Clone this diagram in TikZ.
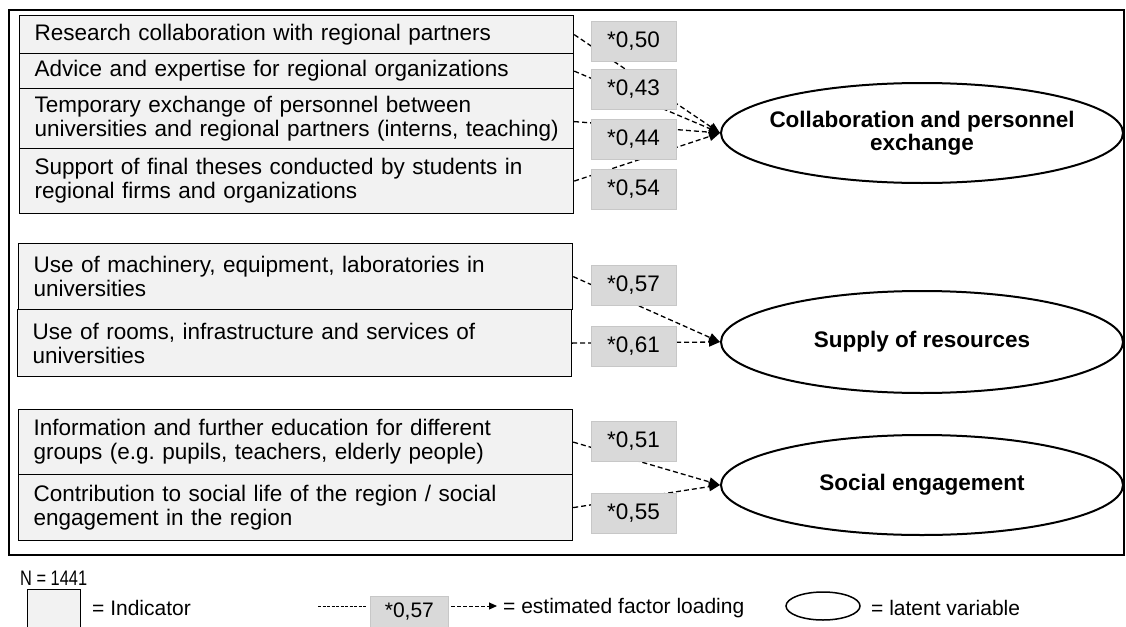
\documentclass[tikz,border=0pt]{standalone}
\usepackage{fontspec}
\setmainfont{Liberation Sans}
\usetikzlibrary{arrows.meta,shapes.geometric}
\newcommand\oneline[1]{\mbox{#1}}
\begin{document}
\frenchspacing
\begin{tikzpicture}[x=1pt,y=-1pt,
  font=\fontsize{22.5}{24}\selectfont,
  ind/.style={draw=black, line width=1.2pt, fill=black!5, anchor=north west, text width=524pt, inner xsep=15pt, inner ysep=0pt, align=left, minimum width=554pt},
  load/.style={draw=black!22, line width=0.8pt, fill=black!15, minimum width=85pt, minimum height=40pt, inner sep=0pt},
  latent/.style={ellipse, draw, line width=2pt, fill=white, minimum width=402pt, minimum height=100pt, inner xsep=-30pt, inner ysep=0pt, align=center, font=\fontsize{22.5}{23}\selectfont\bfseries},
  conn/.style={line width=1.3pt, dash pattern=on 5pt off 3pt, -{Triangle[length=11pt,width=9pt]}},
  frame/.style={draw, line width=1.6pt},
  lgtext/.style={anchor=west, inner sep=0pt, font=\fontsize{21}{24}\selectfont}]
\useasboundingbox (0,0) rectangle (1126,626);
\clip (0,0) rectangle (1126,626);
\draw[frame] (9,10) rectangle (1124,555);
% indicators
\node[ind, minimum height=38pt] (a1) at (19,15) {\oneline{Research collaboration with regional partners}};
\node[ind, minimum height=35pt] (a2) at (19,53) {\oneline{Advice and expertise for regional organizations}};
\node[ind, minimum height=60pt] (a3) at (19,88) {\oneline{Temporary exchange of personnel between}\\\oneline{universities and regional partners (interns, teaching)}};
\node[ind, minimum height=65pt] (a4) at (19,148) {\oneline{Support of final theses conducted by students in}\\\oneline{regional firms and organizations}};
\node[ind, minimum height=66pt] (b1) at (18,243) {\oneline{Use of machinery, equipment, laboratories in}\\\oneline{universities}};
\node[ind, minimum height=67pt] (b2) at (17,309) {\oneline{Use of rooms, infrastructure and services of}\\\oneline{universities}};
\node[ind, minimum height=65pt] (c1) at (18,409) {\oneline{Information and further education for different}\\\oneline{groups (e.g. pupils, teachers, elderly people)}};
\node[ind, minimum height=66pt] (c2) at (18,474) {\oneline{Contribution to social life of the region / social}\\\oneline{engagement in the region}};
% latent variables
\node[latent] (e1) at (922,133) {Collaboration and personnel\\exchange};
\node[latent, minimum height=102pt] (e2) at (922,342) {Supply of resources};
\node[latent] (e3) at (922,485) {Social engagement};
% connectors
\draw[conn] (a1.east) -- (e1.west);
\draw[conn] (a2.east) -- (e1.west);
\draw[conn] ([yshift=-3pt]a3.east) -- (e1.west);
\draw[conn] (a4.east) -- (e1.west);
\draw[conn] (b1.east) -- (e2.west);
\draw[conn] (b2.east) -- (e2.west);
\draw[conn] (c1.east) -- (e3.west);
\draw[conn] (c2.east) -- (e3.west);
% loadings
\node[load] (l1) at (633.5,41) {*0,50};
\node[load] (l2) at (633.5,89) {*0,43};
\node[load] (l3) at (633.5,139) {*0,44};
\node[load] (l4) at (633.5,189) {*0,54};
\node[load] (l5) at (633.5,285) {*0,57};
\node[load] (l6) at (633.5,346) {*0,61};
\node[load] (l7) at (633.5,441) {*0,51};
\node[load] (l8) at (633.5,513) {*0,55};
% legend
\node[lgtext] (n) at (20,578) {\scalebox{0.78}[1]{N = 1441}};
\node[draw, line width=1.2pt, fill=black!5, minimum width=53pt, minimum height=42pt, anchor=north west, inner sep=0pt] (lgind) at (27,589) {};
\node[lgtext] (lgindt) at (92,608) {= Indicator};
\coordinate (d1) at (318,606);
\coordinate (d2) at (367,606);
\node[load, minimum width=78pt, minimum height=31pt, anchor=north west, font=\fontsize{21}{24}\selectfont] (lgload) at (370,596) {*0,57};
\coordinate (d3) at (451,606);
\coordinate (d4) at (497,606);
\draw[line width=1pt, dash pattern=on 3pt off 1.5pt] (d1) -- (d2);
\draw[line width=1pt, dash pattern=on 4pt off 2pt, -{Triangle[length=8pt,width=7pt]}] (d3) -- (d4);
\node[lgtext] (lgloadt) at (503,608) {= estimated factor loading};
\node[ellipse, draw, line width=1.5pt, minimum width=74pt, minimum height=28pt, inner sep=0pt] (lgell) at (823,606) {};
\node[lgtext] (lgellt) at (871,608) {= latent variable};
\end{tikzpicture}
\end{document}
